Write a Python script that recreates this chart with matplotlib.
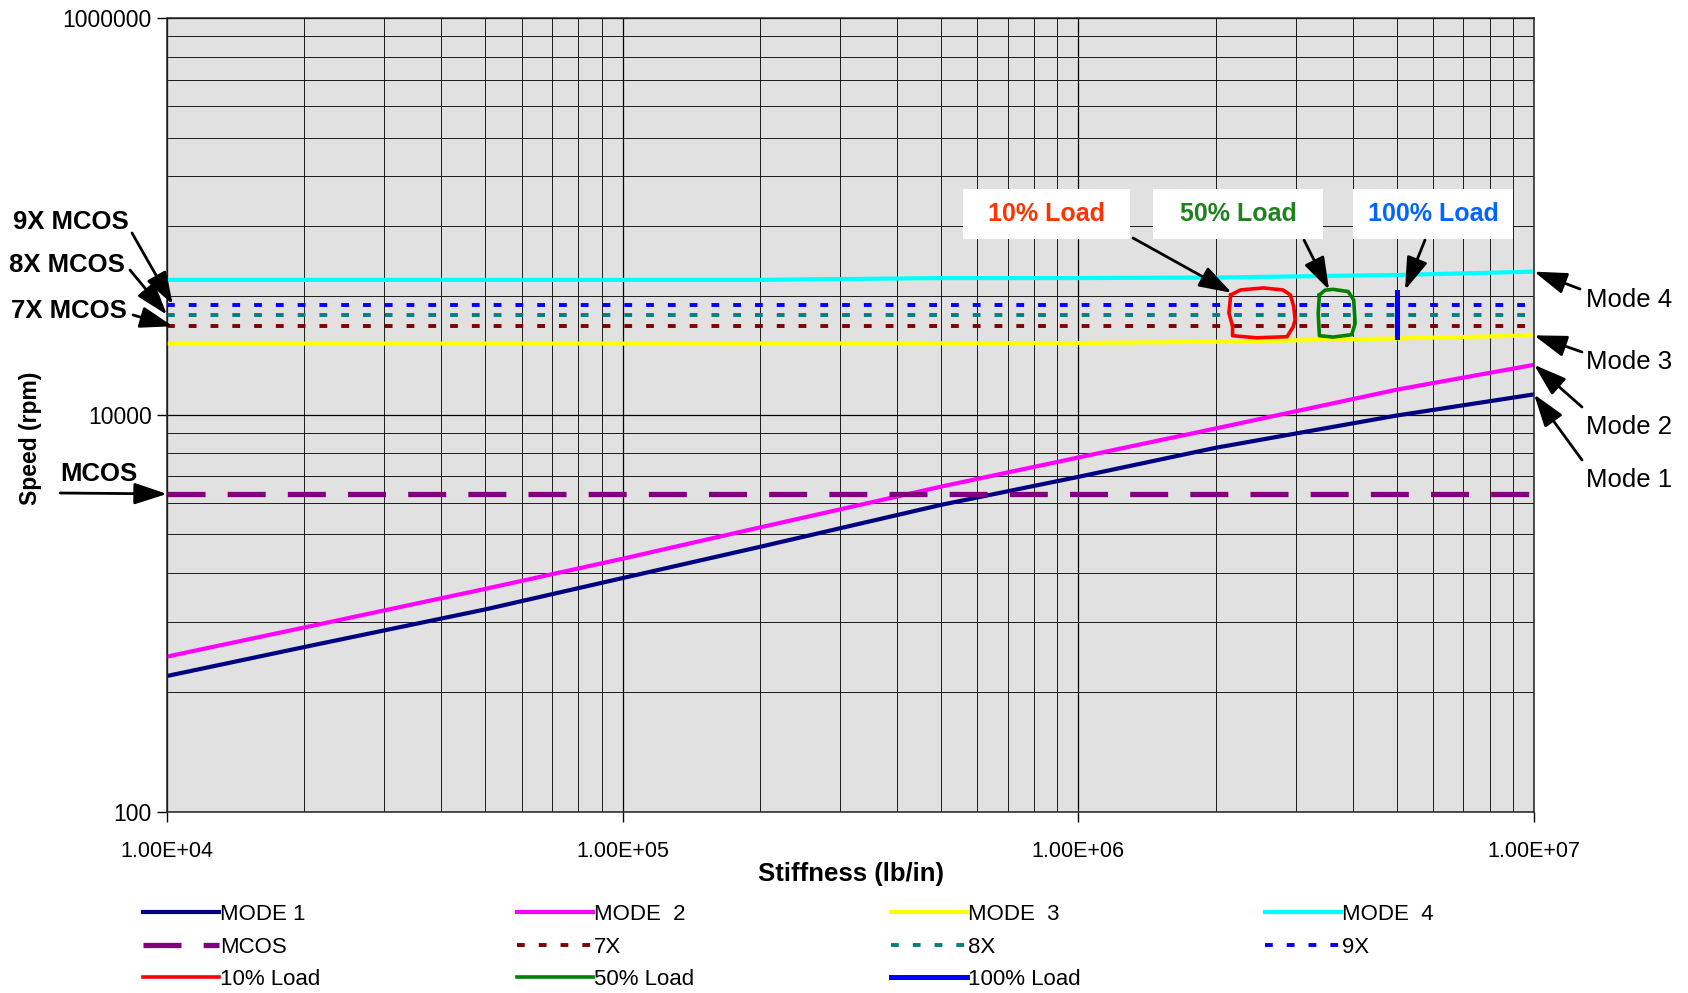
import matplotlib
matplotlib.use("Agg")
import matplotlib.pyplot as plt
import matplotlib.ticker as ticker
from matplotlib.patches import Rectangle

plt.rcParams['font.family'] = ['Liberation Sans', 'DejaVu Sans']

W, H = 1688, 993

# ---- data ----
stiffness = [1e4, 2e4, 5e4, 1e5, 2e5, 5e5, 1e6, 2e6, 5e6, 1e7]
mode1 = [483, 676, 1047, 1506, 2163, 3523, 4875, 6830, 9940, 12700]
mode2 = [605, 848, 1329, 1885, 2710, 4355, 6105, 8550, 13420, 17900]
mode3 = [22900, 22900, 22900, 22900, 22950, 23000, 23050, 23400, 24300, 25200]
mode4 = [48000, 48000, 48000, 48000, 48000, 49000, 49000, 49300, 50800, 52800]

x_range = [1e4, 1e7]
mcos = 4000
x7 = 28000
x8 = 32000
x9 = 36000

# hand drawn markers around the load points
load10_x = [2.16e6, 2.27e6, 2.55e6, 2.81e6, 2.92e6, 2.97e6, 2.99e6, 2.96e6,
            2.87e6, 2.46e6, 2.18e6, 2.18e6, 2.14e6, 2.16e6]
load10_y = [40300, 42700, 43700, 42700, 40300, 35100, 30150, 27800,
            24800, 24500, 25100, 27900, 32700, 40300]
load50_x = [3.38e6, 3.48e6, 3.62e6, 3.91e6, 4.02e6, 4.05e6, 3.98e6, 3.62e6,
            3.38e6, 3.36e6, 3.38e6]
load50_y = [40300, 42600, 43000, 41900, 38000, 29000, 25400, 24700,
            25100, 32600, 40300]
load100_x = [5.0e6, 5.0e6]
load100_y = [24700, 41900]

x_ticks = [1e4, 1e5, 1e6, 1e7]
x_ticklabels = ['1.00E+04', '1.00E+05', '1.00E+06', '1.00E+07']
y_ticks = [100, 10000, 1000000]
y_ticklabels = ['100', '10000', '1000000']
# Excel log axis with base 100: minor lines at k^2 times each major
y_minor = [b * k * k for b in (100, 10000) for k in range(2, 10)]


def fxy(x, y):
    return (x / W, 1 - y / H)


fig = plt.figure(figsize=(W / 100, H / 100), dpi=100)
ax = fig.add_axes([0.0989, 0.1826, 0.8099, 0.7990])
ax.set_facecolor('#E1E1E1')
ax.set_xscale('log')
ax.set_yscale('log')
ax.set_xlim(x_range)
ax.set_ylim(100, 1e6)

ax.xaxis.set_major_locator(ticker.FixedLocator(x_ticks))
ax.xaxis.set_major_formatter(ticker.FixedFormatter(x_ticklabels))
ax.xaxis.set_minor_locator(ticker.LogLocator(base=10, subs=range(2, 10)))
ax.xaxis.set_minor_formatter(ticker.NullFormatter())
ax.yaxis.set_major_locator(ticker.FixedLocator(y_ticks))
ax.yaxis.set_major_formatter(ticker.FixedFormatter(y_ticklabels))
ax.yaxis.set_minor_locator(ticker.FixedLocator(y_minor))
ax.yaxis.set_minor_formatter(ticker.NullFormatter())

ax.grid(True, which='major', color='#000000', lw=0.9)
ax.grid(True, which='minor', color='#1a1a1a', lw=0.7)
ax.set_axisbelow(True)
ax.tick_params(which='minor', length=0)
ax.tick_params(axis='y', which='major', length=7, width=1, pad=4, labelsize=16.5)
ax.tick_params(axis='x', which='major', length=7, width=1, pad=14, labelsize=15.5)
for sp in ax.spines.values():
    sp.set_color('#222222')
    sp.set_linewidth(1.1)

# ---- series ----
ax.plot(stiffness, mode1, color='#000080', lw=3.0, label='MODE 1')
ax.plot(stiffness, mode2, color='#FF00FF', lw=3.0, label='MODE  2')
ax.plot(stiffness, mode3, color='#FFFF00', lw=3.0, label='MODE  3')
ax.plot(stiffness, mode4, color='#00FFFF', lw=3.0, label='MODE  4')
ax.plot(x_range, [mcos, mcos], color='#800080', lw=3.8, dashes=(7.2, 4.2), label='MCOS')
ax.plot(x_range, [x7, x7], color='#800000', lw=2.8, dashes=(2.0, 3.6), label='7X')
ax.plot(x_range, [x8, x8], color='#008080', lw=2.8, dashes=(2.0, 3.6), label='8X')
ax.plot(x_range, [x9, x9], color='#0000FF', lw=2.8, dashes=(2.0, 3.6), label='9X')
ax.plot(load10_x, load10_y, color='#FF0000', lw=2.6, label='10% Load')
ax.plot(load50_x, load50_y, color='#008000', lw=2.6, label='50% Load')
ax.plot(load100_x, load100_y, color='#0000FF', lw=3.6, label='100% Load')

# ---- axis titles ----
fig.text(*fxy(30, 438), 'Speed (rpm)', rotation=90, ha='center', va='center',
         fontsize=16.5, fontweight='bold')
fig.text(*fxy(851, 874), 'Stiffness (lb/in)', ha='center', va='center',
         fontsize=18.5, fontweight='bold')

# ---- annotations ----
arrow = dict(arrowstyle='-|>,head_length=1.0,head_width=0.33', color='black',
             lw=2, mutation_scale=20, shrinkA=0, shrinkB=0)


def pointer(start, target):
    ax.annotate('', xy=target, xycoords='data', xytext=fxy(*start),
                textcoords='figure fraction', arrowprops=arrow,
                annotation_clip=False)


left_labels = [('9X MCOS', (71, 222), (132, 233), (1.03e4, x9)),
               ('8X MCOS', (67, 265), (130, 270), (1.0e4, x8)),
               ('7X MCOS', (69, 311), (133, 315), (1.03e4, x7)),
               ('MCOS', (99, 474), (60, 493), (1.0e4, mcos))]
for txt, pos, start, target in left_labels:
    fig.text(*fxy(*pos), txt, ha='center', va='center', fontsize=18.5, fontweight='bold')
    pointer(start, target)

right_labels = [('Mode 4', (1629, 300), (1580, 289), (1e7, mode4[-1])),
                ('Mode 3', (1629, 362), (1582, 352), (1e7, mode3[-1])),
                ('Mode 2', (1629, 427), (1582, 407), (1e7, mode2[-1])),
                ('Mode 1', (1629, 480), (1582, 460), (1e7, mode1[-1]))]
for txt, pos, start, target in right_labels:
    fig.text(*fxy(*pos), txt, ha='center', va='center', fontsize=18.5)
    pointer(start, target)

boxes = [('10% Load', '#FF3300', 963, 1130, (1133, 238), (2.17e6, 41300)),
         ('50% Load', '#1E821E', 1153, 1323, (1304, 240), (3.55e6, 42700)),
         ('100% Load', '#0066FF', 1353, 1513, (1425, 240), (5.21e6, 42700))]
for txt, col, x0, x1, start, target in boxes:
    fig.patches.append(Rectangle(fxy(x0, 239), (x1 - x0) / W, 50 / H,
                                 transform=fig.transFigure, facecolor='white',
                                 edgecolor='none', zorder=2))
    fig.text(*fxy((x0 + x1) / 2, 214), txt, ha='center', va='center', fontsize=18,
             fontweight='bold', color=col, zorder=3)
    pointer(start, target)

# ---- legend, laid out in four columns ----
handles, labels = ax.get_legend_handles_labels()
columns = [[0, 4, 8], [1, 5, 9], [2, 6, 10], [3, 7]]
col_x = [143, 517, 891, 1265]
for idx, cx in zip(columns, col_x):
    fig.legend([handles[i] for i in idx], [labels[i] for i in idx],
               loc='upper left', bbox_to_anchor=fxy(cx, 904),
               frameon=False, borderpad=0, borderaxespad=0,
               handlelength=3.4, handletextpad=0.05, labelspacing=0.52,
               prop={'size': 16})

fig.savefig('out.png', dpi=100)
